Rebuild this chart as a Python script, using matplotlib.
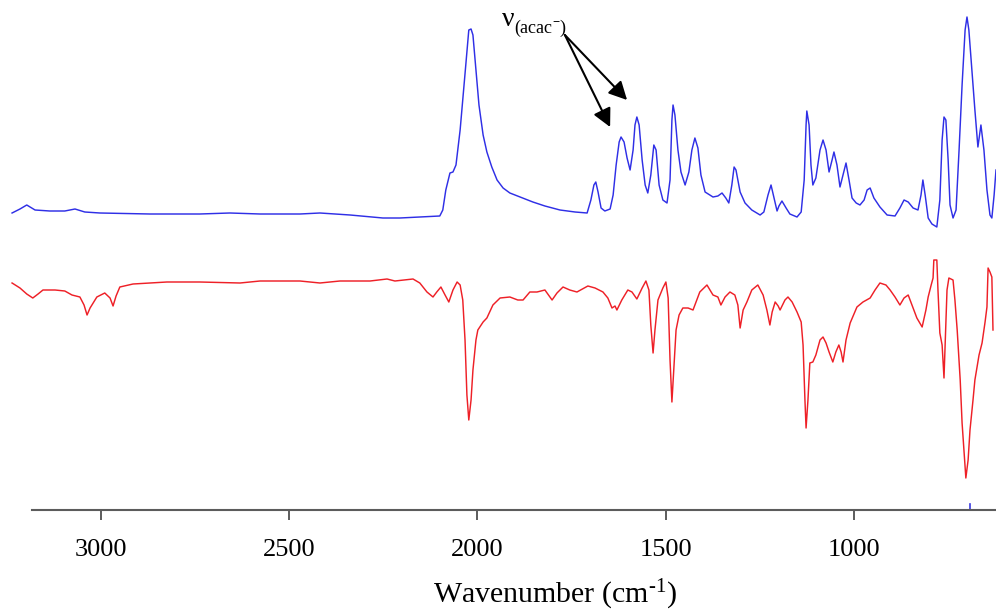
import matplotlib
matplotlib.use("Agg")
import matplotlib.pyplot as plt

plt.rcParams["font.family"] = ["Liberation Serif", "DejaVu Serif"]
plt.rcParams["mathtext.fontset"] = "custom"
plt.rcParams["mathtext.rm"] = "Liberation Serif"
plt.rcParams["mathtext.it"] = "Liberation Serif:italic"
plt.rcParams["mathtext.bf"] = "Liberation Serif:bold"

# ---- IR spectra (wavenumber in cm^-1, intensity in arbitrary offset units) ----
blue_wn = [3235, 3214, 3196, 3174, 3135, 3095, 3068, 3042, 3002, 2869, 2737, 2657,
           2577, 2471, 2418, 2338, 2251, 2206, 2153, 2100, 2092, 2084, 2073, 2065,
           2057, 2046, 2039, 2031, 2023, 2017, 2012, 2004, 1996, 1985, 1975, 1962,
           1948, 1932, 1914, 1887, 1853, 1821, 1781, 1741, 1709, 1699, 1691, 1686,
           1680, 1672, 1662, 1648, 1640, 1632, 1624, 1619, 1611, 1603, 1595, 1587,
           1582, 1577, 1571, 1563, 1555, 1548, 1540, 1532, 1526, 1518, 1508, 1497,
           1489, 1484, 1481, 1476, 1468, 1460, 1449, 1439, 1431, 1423, 1415, 1407,
           1396, 1375, 1362, 1351, 1341, 1333, 1325, 1319, 1314, 1303, 1290, 1272,
           1250, 1240, 1229, 1221, 1213, 1205, 1200, 1192, 1181, 1171, 1152, 1141,
           1133, 1128, 1126, 1120, 1115, 1110, 1102, 1091, 1083, 1075, 1067, 1059,
           1054, 1046, 1038, 1030, 1022, 1014, 1006, 995, 985, 974, 966, 958, 948,
           932, 913, 892, 879, 868, 857, 844, 831, 823, 818, 812, 804, 794, 781,
           773, 767, 762, 757, 751, 746, 738, 730, 722, 714, 706, 701, 696, 688,
           680, 672, 664, 656, 648, 640, 635, 629, 624]
blue_int = [297, 301, 305, 300, 299, 299, 301, 298, 297, 296, 296, 297,
            296, 296, 297, 295, 292, 292, 293, 294, 300, 320, 337, 338,
            345, 380, 410, 445, 480, 481, 475, 440, 405, 375, 358, 343,
            330, 322, 317, 313, 308, 304, 300, 298, 297, 310, 325, 328,
            318, 302, 299, 301, 315, 345, 368, 373, 368, 352, 340, 360,
            385, 393, 385, 350, 325, 317, 335, 365, 360, 325, 310, 307,
            330, 390, 405, 395, 360, 338, 325, 338, 360, 372, 362, 335,
            318, 313, 314, 317, 312, 307, 325, 343, 340, 318, 307, 300,
            295, 298, 315, 325, 312, 299, 304, 309, 302, 296, 293, 298,
            330, 385, 399, 385, 345, 325, 332, 360, 370, 360, 338, 350,
            358, 345, 323, 335, 347, 330, 312, 307, 305, 310, 320, 322, 312,
            303, 295, 294, 302, 310, 308, 302, 300, 315, 330, 315, 292, 286, 283,
            310, 370, 393, 390, 350, 305, 292, 300, 360, 425, 480, 493, 480, 440,
            400, 363, 385, 360, 320, 295, 292, 315, 340]

red_wn = [3235, 3214, 3196, 3180, 3166, 3153, 3121, 3095, 3076, 3055, 3044, 3036,
          3028, 3010, 2989, 2975, 2967, 2959, 2949, 2914, 2824, 2737, 2630, 2577,
          2471, 2418, 2365, 2285, 2240, 2219, 2171, 2153, 2134, 2118, 2108, 2097,
          2086, 2076, 2065, 2054, 2046, 2039, 2033, 2028, 2023, 2017, 2012, 2004,
          1999, 1985, 1975, 1959, 1940, 1914, 1893, 1879, 1861, 1842, 1821, 1802,
          1789, 1773, 1755, 1736, 1707, 1688, 1667, 1654, 1643, 1635, 1630, 1617,
          1601, 1590, 1577, 1563, 1553, 1545, 1540, 1534, 1529, 1521, 1508, 1500,
          1494, 1489, 1484, 1479, 1473, 1465, 1455, 1441, 1428, 1410, 1391, 1375,
          1362, 1354, 1343, 1330, 1317, 1309, 1303, 1295, 1285, 1272, 1256, 1242,
          1232, 1224, 1218, 1210, 1202, 1197, 1184, 1176, 1165, 1152, 1141, 1136,
          1131, 1128, 1123, 1118, 1110, 1102, 1091, 1083, 1075, 1067, 1057, 1049,
          1041, 1035, 1030, 1022, 1011, 993, 977, 958, 945, 932, 916, 905, 892,
          879, 868, 857, 847, 834, 820, 810, 804, 796, 791, 789, 781, 778, 773,
          767, 762, 759, 754, 749, 738, 733, 727, 719, 714, 709, 704, 698, 693,
          685, 680, 669, 661, 653, 648, 645, 640, 635, 632]
red_int = [227, 222, 216, 212, 216, 220, 220, 219, 215, 213, 205, 195,
           202, 213, 217, 212, 204, 214, 223, 226, 228, 228, 227, 229,
           229, 227, 229, 229, 231, 229, 231, 227, 218, 213, 218, 223,
           215, 208, 220, 228, 225, 210, 170, 115, 90, 110, 140, 170,
           180, 188, 192, 205, 212, 213, 210, 210, 218, 218, 220, 210,
           217, 223, 220, 218, 224, 222, 218, 212, 202, 204, 200, 210,
           220, 218, 211, 222, 229, 220, 185, 157, 180, 210, 222, 228,
           212, 150, 108, 140, 180, 195, 202, 202, 200, 218, 225, 215,
           213, 205, 213, 218, 215, 205, 182, 200, 208, 220, 225, 215,
           200, 185, 198, 208, 204, 200, 210, 213, 208, 198, 188, 165,
           110, 82, 110, 147, 148, 155, 170, 173, 167, 158, 148, 158,
           165, 158, 148, 170, 187, 203, 208, 212, 220, 227, 225, 220, 213,
           205, 212, 215, 205, 192, 183, 200, 213, 225, 232, 250, 250, 220, 177,
           165, 132, 165, 220, 232, 230, 210, 180, 130, 87, 60, 32, 50, 80,
           110, 130, 155, 167, 188, 203, 242, 238, 233, 180]

x_ticks = [3000, 2500, 2000, 1500, 1000]
x_left, x_right = 3267, 624
axis_start = 3182
marker_wn = 693

# annotation: nu(acac-) band positions (arrow tips) and label anchor
acac_tips = [(1648, 383), (1603, 410)]
acac_origin = (1768, 475)

fig = plt.figure(figsize=(9.96, 6.12), dpi=100)
ax = fig.add_axes([0, 102 / 612, 1, 510 / 612])

ax.plot(blue_wn, blue_int, color="#2f2fe6", lw=1.05, solid_joinstyle="round")
ax.plot(red_wn, red_int, color="#ee2027", lw=1.05, solid_joinstyle="round")
ax.plot([marker_wn, marker_wn], [0, 6], color="#3a3ae0", lw=1.2, clip_on=False)

ax.set_xlim(x_left, x_right)
ax.set_ylim(0, 510)
for side in ("left", "right", "top"):
    ax.spines[side].set_visible(False)
ax.spines["bottom"].set_bounds(axis_start, x_right)
ax.spines["bottom"].set_color("#5c5c5c")
ax.spines["bottom"].set_linewidth(1.5)
ax.set_yticks([])
ax.set_xticks(x_ticks)
ax.set_xticklabels([str(t) for t in x_ticks])
ax.tick_params(axis="x", direction="out", length=7.2, width=1.4,
               color="#5c5c5c", labelsize=19, pad=14)
ax.patch.set_alpha(0)

fig.text(555 / 996, 1 - 603 / 612, r"Wavenumber (cm$^{\text{-1}}$)",
         ha="center", va="baseline", fontsize=21.5)

# label nu(acac-)
ax.text(1936, 484, "\u03bd", fontsize=20, ha="left", va="baseline")
ax.text(1902, 477, r"(acac$^{\mathbf{-}}$)", fontsize=13, ha="left", va="baseline")
for tip in acac_tips:
    ax.annotate("", xy=tip, xytext=acac_origin,
                arrowprops=dict(arrowstyle="-|>,head_length=0.55,head_width=0.28",
                                mutation_scale=20, lw=1.5, color="black",
                                shrinkA=0, shrinkB=0))

fig.savefig("out.png", dpi=100)
